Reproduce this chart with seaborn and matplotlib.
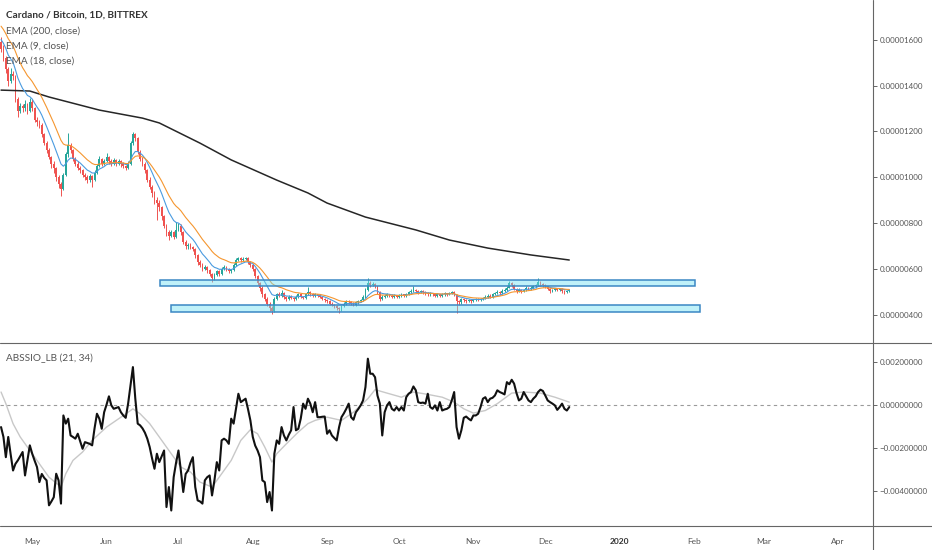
import numpy as np
import pandas as pd
import matplotlib
matplotlib.use("Agg")
import matplotlib.pyplot as plt
import matplotlib.dates as mdates
from matplotlib.patches import Rectangle
from matplotlib.lines import Line2D
from matplotlib.ticker import FuncFormatter
import seaborn as sns

# ADA/BTC daily candles, prices in satoshi (1e-8 BTC)
first_day = "2019-04-18"
first_open = 1590
closes = [
    1560, 1520, 1470, 1420, 1450, 1440, 1340, 1290, 1310, 1300,
    1320, 1290, 1330, 1300, 1250, 1240, 1230, 1190, 1150, 1120,
    1090, 1060, 1040, 1000, 970, 950, 1010, 1100, 1140, 1120,
    1080, 1060, 1040, 1030, 1010, 1000, 990, 1005, 990, 1020,
    1050, 1080, 1060, 1070, 1090, 1070, 1060, 1075, 1060, 1070,
    1060, 1050, 1040, 1060, 1150, 1190, 1170, 1110, 1080, 1060,
    1030, 990, 960, 930, 900, 890, 870, 830, 790, 760,
    745, 760, 740, 770, 790, 760, 720, 700, 705, 698,
    688, 660, 630, 620, 600, 610, 595, 580, 560, 575,
    590, 580, 600, 610, 600, 590, 595, 620, 640, 650,
    640, 645, 650, 630, 620, 600, 570, 540, 520, 490,
    470, 450, 430, 420, 470, 490, 485, 495, 480, 470,
    480, 475, 470, 480, 490, 480, 475, 490, 500, 490,
    485, 490, 485, 480, 470, 465, 460, 450, 445, 440,
    430, 425, 440, 450, 460, 455, 450, 445, 455, 460,
    465, 480, 510, 540, 530, 535, 525, 500, 470, 480,
    485, 490, 485, 480, 485, 480, 485, 490, 485, 490,
    500, 505, 510, 505, 500, 505, 500, 495, 490, 495,
    490, 485, 490, 485, 490, 495, 490, 495, 500, 490,
    460, 455, 470, 465, 460, 465, 460, 465, 470, 465,
    470, 475, 480, 485, 480, 490, 495, 500, 495, 505,
    510, 520, 540, 530, 515, 505, 510, 505, 510, 520,
    515, 520, 525, 530, 545, 535, 530, 525, 515, 505,
    510, 515, 510, 515, 505, 500, 505, 510,
]
highs = [
    1610, 1575, 1530, 1480, 1475, 1465, 1445, 1350, 1325, 1320,
    1335, 1325, 1345, 1340, 1305, 1265, 1250, 1235, 1195, 1160,
    1130, 1095, 1070, 1045, 1010, 980, 1020, 1110, 1195, 1150,
    1125, 1090, 1070, 1050, 1035, 1020, 1010, 1015, 1010, 1030,
    1060, 1095, 1085, 1080, 1105, 1095, 1080, 1085, 1080, 1080,
    1075, 1065, 1055, 1070, 1160, 1198, 1195, 1175, 1120, 1090,
    1065, 1035, 1000, 965, 940, 915, 900, 875, 835, 795,
    770, 770, 765, 806, 800, 795, 765, 725, 715, 712,
    702, 692, 665, 640, 625, 620, 615, 600, 585, 582,
    598, 595, 608, 618, 615, 605, 602, 628, 648, 655,
    655, 652, 655, 652, 635, 625, 605, 575, 545, 525,
    495, 478, 455, 440, 478, 498, 500, 510, 500, 485,
    488, 486, 480, 486, 498, 494, 485, 496, 523, 505,
    495, 497, 494, 490, 484, 476, 470, 464, 456, 450,
    445, 436, 446, 456, 467, 465, 460, 455, 460, 466,
    470, 486, 518, 562, 548, 545, 540, 528, 505, 487,
    492, 496, 494, 490, 490, 489, 490, 496, 494, 495,
    506, 512, 525, 515, 510, 510, 508, 505, 500, 500,
    498, 495, 495, 494, 495, 500, 498, 500, 506, 504,
    494, 466, 476, 475, 470, 470, 468, 470, 476, 474,
    476, 480, 486, 492, 490, 496, 502, 508, 505, 512,
    518, 528, 549, 546, 534, 520, 516, 514, 515, 526,
    524, 526, 530, 536, 560, 550, 540, 535, 528, 520,
    515, 520, 520, 520, 518, 508, 510, 514,
]
lows = [
    1545, 1505, 1455, 1400, 1410, 1425, 1330, 1263, 1280, 1285,
    1290, 1275, 1285, 1290, 1240, 1225, 1215, 1175, 1140, 1105,
    1080, 1040, 1020, 985, 955, 920, 945, 1005, 1090, 1105,
    1070, 1050, 1030, 1020, 1000, 990, 975, 980, 960, 985,
    1015, 1045, 1050, 1055, 1065, 1060, 1050, 1055, 1050, 1055,
    1045, 1040, 1030, 1035, 1055, 1140, 1160, 1100, 1070, 1050,
    1020, 980, 950, 915, 885, 815, 855, 815, 780, 745,
    725, 740, 730, 735, 765, 750, 710, 690, 690, 690,
    678, 650, 620, 610, 590, 595, 585, 570, 545, 555,
    570, 572, 575, 595, 592, 582, 585, 590, 615, 635,
    632, 635, 638, 622, 610, 590, 560, 530, 505, 480,
    460, 440, 418, 405, 415, 465, 478, 480, 472, 462,
    466, 468, 462, 466, 476, 474, 468, 472, 486, 484,
    478, 480, 478, 474, 464, 458, 452, 444, 438, 432,
    422, 410, 420, 436, 446, 448, 444, 438, 440, 450,
    455, 462, 476, 505, 522, 525, 518, 492, 460, 465,
    475, 480, 478, 474, 475, 474, 476, 480, 480, 480,
    486, 496, 500, 498, 494, 496, 494, 488, 484, 485,
    484, 478, 480, 480, 480, 485, 484, 486, 490, 484,
    410, 446, 450, 458, 454, 455, 454, 455, 460, 460,
    460, 466, 470, 476, 474, 476, 486, 490, 488, 490,
    500, 505, 516, 524, 508, 498, 500, 498, 500, 505,
    508, 510, 515, 520, 525, 528, 522, 518, 508, 498,
    500, 505, 504, 505, 498, 492, 496, 500,
]
# short EMAs computed from the closes, carried in from before the first candle
ema_seed = {9: 1610, 18: 1670}
# EMA (200) at these candle indices
ema200_day = [0, 12, 20, 41, 59, 66, 83, 96, 115, 128,
              136, 152, 173, 187, 203, 221, 237]
ema200_val = [1380, 1376, 1350, 1293, 1258, 1237, 1149, 1076, 988, 932,
              888, 827, 771, 727, 692, 662, 640]

# ABSSIO_LB (21, 34) oscillator, in units of 0.001
osc = [
    -1.04, -1.5, -2.44, -1.5, -2.3, -3.06, -2.75, -2.59, -2.4, -2.2,
    -3.29, -2.6, -1.89, -2.28, -2.6, -2.9, -3.6, -3.22, -3.4, -3.52,
    -4.68, -4.5, -4.3, -3.21, -3.52, -4.6, -0.5, -0.88, -0.65, -1.43,
    -1.5, -1.58, -1.35, -1.7, -2.05, -1.74, -1.78, -1.82, -1.89, -1.1,
    -0.42, -0.65, -1.12, -0.35, 0.0, 0.39, -0.03, -0.19, -0.15, -0.11,
    -0.35, -0.5, -0.61, 0.05, 0.9, 1.75, 0.28, -0.88, -0.96, -1.1,
    -1.3, -1.58, -1.97, -2.5, -2.98, -2.28, -2.67, -2.4, -2.13, -4.76,
    -3.83, -4.92, -3.37, -2.7, -2.13, -3.06, -4.06, -3.22, -3.06, -2.7,
    -2.44, -3.83, -4.45, -4.5, -4.6, -3.52, -3.37, -3.29, -4.22, -3.52,
    -2.67, -3.06, -1.66, -1.58, -1.66, -1.82, -0.65, -0.88, -0.2, 0.51,
    0.12, 0.2, 0.28, -0.2, -0.73, -1.5, -1.9, -2.13, -2.44, -3.52,
    -3.6, -4.53, -4.06, -4.92, -2.28, -1.66, -1.82, -1.04, -1.43, -1.66,
    -1.4, -1.19, -0.11, -1.19, -1.12, -0.65, 0.05, -0.19, 0.28, 0.05,
    -0.35, 0.12, -0.58, -0.58, -0.56, -0.55, -1.35, -1.19, -1.43, -1.55,
    -1.66, -1.04, -0.58, -0.4, -0.19, 0.05, -0.58, -0.7, -0.35, -0.2,
    -0.03, 0.2, 0.82, 2.14, 1.44, 1.44, 1.28, 0.43, 0.05, -1.43,
    -0.35, -0.03, 0.12, -0.19, -0.27, -0.11, -0.27, -0.11, -0.27, 0.35,
    0.51, 0.59, 0.85, 0.67, 0.12, 0.08, 0.1, 0.05, 0.51, -0.11,
    -0.19, -0.03, -0.27, 0.12, -0.27, -0.22, -0.19, -0.11, 0.2, 0.59,
    -1.04, -1.58, -1.19, -0.61, -0.55, -0.65, -0.73, -0.5, -0.5, -0.42,
    -0.11, 0.28, 0.35, 0.12, 0.28, 0.32, 0.43, 0.67, 0.59, 0.54,
    0.48, 1.05, 0.95, 1.16, 0.98, 0.54, 0.2, 0.28, 0.59, 0.4,
    0.2, 0.12, 0.28, 0.39, 0.59, 0.7, 0.64, 0.43, 0.2, 0.12,
    0.05, -0.03, -0.24, -0.11, 0.05, -0.19, -0.27, -0.11,
]
# signal line, read at these candle indices
sig_day = [0, 2, 5, 8, 11, 13, 16, 20, 25, 27,
           30, 34, 38, 44, 50, 53, 55, 58, 62, 66,
           71, 75, 79, 83, 88, 91, 96, 100, 104, 107,
           110, 113, 115, 119, 124, 128, 131, 136, 142, 147,
           153, 156, 161, 167, 172, 178, 184, 189, 193, 197,
           202, 207, 213, 218, 225, 231, 237]
sig_val = [0.59, 0.05, -0.88, -1.5, -1.97, -2.28, -2.75, -3.37, -3.83, -3.21,
           -2.59, -2.2, -1.66, -1.04, -0.58, -0.35, -0.19, -0.42, -0.88, -1.5,
           -2.28, -2.9, -3.13, -3.6, -3.83, -3.37, -2.59, -1.66, -1.16, -1.35,
           -1.97, -2.67, -2.28, -1.82, -1.27, -0.88, -0.73, -0.58, -0.73, -0.35,
           0.28, 0.7, 0.54, 0.35, 0.59, 0.48, 0.35, 0.12, -0.19, -0.39,
           -0.27, 0.05, 0.54, 0.59, 0.54, 0.35, 0.12]

# drawn support / resistance zones
zone_start = ["2019-06-23 12:00", "2019-06-28 02:00"]
zone_end = ["2020-02-01 12:00", "2020-02-03 14:00"]
zone_low = [527, 414]
zone_high = [553, 443]

price_ticks = [400, 600, 800, 1000, 1200, 1400, 1600]
osc_ticks = [-4, -2, 0, 2]
month_starts = pd.date_range("2019-05-01", "2020-04-01", freq="MS")
month_labels = ["May", "Jun", "Jul", "Aug", "Sep", "Oct", "Nov", "Dec",
                "2020", "Feb", "Mar", "Apr"]

df = pd.DataFrame({
    "date": pd.date_range(first_day, periods=len(closes), freq="D"),
    "open": [first_open] + closes[:-1],
    "close": closes,
    "high": highs,
    "low": lows,
    "osc": osc,
})


def ema(values, span, seed):
    s = pd.Series([seed] + list(values), dtype=float)
    return s.ewm(span=span, adjust=False).mean().iloc[1:].to_numpy()


for n in (9, 18):
    df[f"ema{n}"] = ema(df.close, n, ema_seed[n])

UP, DOWN = "#26a69a", "#ef5350"
AXIS = "#666666"
TXT = "#555555"

sns.set_style("white")
plt.rcParams['font.family'] = ['Lato', 'DejaVu Sans']

fig = plt.figure(figsize=(9.32, 5.5), dpi=100)
ax1 = fig.add_axes([0, 0.3769, 0.9364, 0.6231])
ax2 = fig.add_axes([0, 0.0436, 0.9364, 0.3333], sharex=ax1)

# candles
up = df.close >= df.open
colors = np.where(up, UP, DOWN)
body_lo = np.minimum(df.open, df.close)
body_h = np.maximum(np.abs(df.close - df.open), 1.5)
ax1.vlines(df.date, df.low, df.high, colors=colors, lw=0.7, zorder=2)
ax1.bar(df.date, body_h, bottom=body_lo, width=0.75, color=colors,
        linewidth=0, zorder=3)

sns.lineplot(x=df.date.iloc[ema200_day].to_numpy(), y=ema200_val, ax=ax1,
             color="#262626", lw=1.1, zorder=4)
sns.lineplot(x=df.date, y=df.ema9, ax=ax1, color="#4a9be0", lw=0.8, zorder=4)
sns.lineplot(x=df.date, y=df.ema18, ax=ax1, color="#f5962f", lw=0.8, zorder=4)

for s, e, lo, hi in zip(zone_start, zone_end, zone_low, zone_high):
    x0 = mdates.date2num(pd.Timestamp(s))
    x1 = mdates.date2num(pd.Timestamp(e))
    ax1.add_patch(Rectangle((x0, lo), x1 - x0, hi - lo,
                            facecolor=(0.45, 0.88, 0.95, 0.45),
                            edgecolor="#3b87c4", lw=1.1, zorder=5))

# oscillator
ax2.axhline(0, color="#9a9a9a", lw=0.8, ls=(0, (3, 3)), zorder=1)
sns.lineplot(x=df.date.iloc[sig_day].to_numpy(), y=sig_val, ax=ax2,
             color="#c8c8c8", lw=1.0, zorder=2)
sns.lineplot(x=df.date, y=df.osc, ax=ax2, color="#111111", lw=1.5, zorder=3)

# axes
ax1.set_xlim(pd.Timestamp("2019-04-17 13:30"), pd.Timestamp("2020-04-15 14:00"))
ax1.set_ylim(279.8, 1772.5)
ax2.set_ylim(-5.642, 2.884)

minus = "\u2212"
ax1.yaxis.tick_right()
ax1.set_yticks(price_ticks)
ax1.yaxis.set_major_formatter(FuncFormatter(lambda v, p: f"{v * 1e-8:.8f}"))
ax2.yaxis.tick_right()
ax2.set_yticks(osc_ticks)
ax2.yaxis.set_major_formatter(
    FuncFormatter(lambda v, p: f"{abs(v) * 1e-3:.8f}" if v >= 0
                  else minus + f"{abs(v) * 1e-3:.8f}"))

for ax in (ax1, ax2):
    for sp in ax.spines.values():
        sp.set_visible(False)
    ax.set_xlabel("")
    ax.set_ylabel("")
    ax.tick_params(axis="y", length=3, width=0.7, color=AXIS, labelsize=5.8,
                   labelcolor=TXT, pad=1.8)
    ax.set_facecolor("white")

ax1.tick_params(axis="x", bottom=False, labelbottom=False)
ax2.set_xticks(month_starts)
ax2.set_xticklabels(month_labels)
ax2.tick_params(axis="x", length=2.5, width=0.7, color=AXIS, labelsize=6,
                labelcolor=TXT, pad=6)
for lab in ax2.get_xticklabels():
    if lab.get_text() == "2020":
        lab.set_fontweight("bold")
        lab.set_color("#333333")

# panel separators and price scale border
ax_right = 872.7 / 932
fig.add_artist(Line2D([ax_right, ax_right], [0, 1], color=AXIS, lw=0.8))
fig.add_artist(Line2D([0, 1], [1 - 342.7 / 550] * 2, color=AXIS, lw=0.8))
fig.add_artist(Line2D([0, 1], [1 - 526 / 550] * 2, color=AXIS, lw=0.8))

# legends
fig.text(6 / 932, 1 - 15 / 550, "Cardano / Bitcoin, 1D, BITTREX", fontsize=7.2,
         fontweight="bold", color="#333333", va="center")
for k, t in enumerate(["EMA (200, close)", "EMA (9, close)", "EMA (18, close)"]):
    fig.text(6 / 932, 1 - (31 + 15 * k) / 550, t, fontsize=7.2, color=TXT,
             va="center")
fig.text(6 / 932, 1 - 358 / 550, "ABSSIO_LB (21, 34)", fontsize=7.2, color=TXT,
         va="center")

fig.savefig("out.png", dpi=100, facecolor="white")
